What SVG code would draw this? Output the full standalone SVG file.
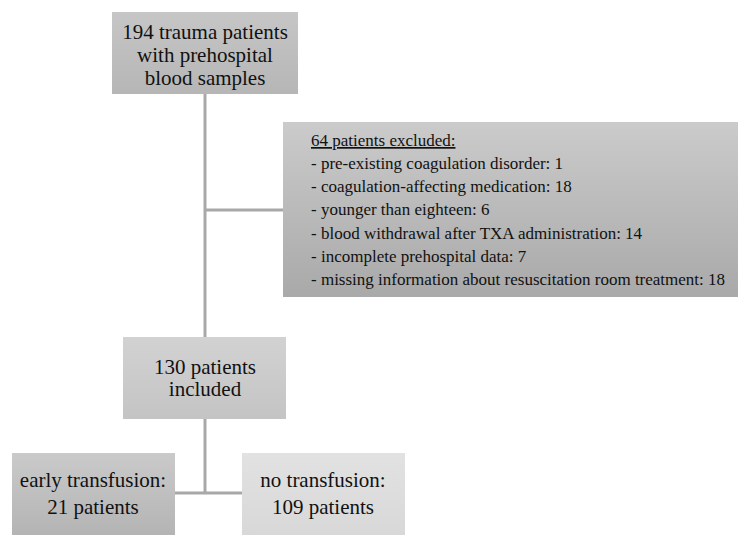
<svg xmlns="http://www.w3.org/2000/svg" width="751" height="541" viewBox="0 0 751 541">
<defs>
<linearGradient id="g1" x1="0" y1="0" x2="0" y2="1"><stop offset="0" stop-color="#c6c6c6"/><stop offset="1" stop-color="#b6b6b6"/></linearGradient>
<linearGradient id="g2" x1="0" y1="0" x2="0" y2="1"><stop offset="0" stop-color="#cbcbcb"/><stop offset="1" stop-color="#a9a9a9"/></linearGradient>
<linearGradient id="g3" x1="0" y1="0" x2="0" y2="1"><stop offset="0" stop-color="#d2d2d2"/><stop offset="1" stop-color="#c4c4c4"/></linearGradient>
<linearGradient id="g4" x1="0" y1="0" x2="0" y2="1"><stop offset="0" stop-color="#cacaca"/><stop offset="1" stop-color="#b4b4b4"/></linearGradient>
<linearGradient id="g5" x1="0" y1="0" x2="0" y2="1"><stop offset="0" stop-color="#e2e2e2"/><stop offset="1" stop-color="#d8d8d8"/></linearGradient>
</defs>
<style>
text{font-family:"Liberation Serif","Times New Roman",serif;fill:#111}
.c{text-anchor:middle;font-size:21px}
.l{font-size:17px}
.ln{stroke:#a8a8a8;stroke-width:3;fill:none}
</style>
<g id="connectors">
<line class="ln" x1="205" y1="94" x2="205" y2="337"/>
<line class="ln" x1="205" y1="210" x2="283" y2="210"/>
<line class="ln" x1="205" y1="419" x2="205" y2="493"/>
<line class="ln" x1="175" y1="493" x2="242" y2="493"/>
</g>
<g id="n1">
<rect x="112" y="12" width="186" height="82" fill="url(#g1)"/>
<text class="c" x="205" y="39">194 trauma patients</text>
<text class="c" x="205" y="62">with prehospital</text>
<text class="c" x="205" y="85">blood samples</text>
</g>
<g id="n2">
<rect x="283" y="122" width="455" height="175" fill="url(#g2)"/>
<text class="l" x="311" y="146" text-decoration="underline">64 patients excluded:</text>
<text class="l" x="311" y="169">- pre-existing coagulation disorder: 1</text>
<text class="l" x="311" y="192">- coagulation-affecting medication: 18</text>
<text class="l" x="311" y="215">- younger than eighteen: 6</text>
<text class="l" x="311" y="239">- blood withdrawal after TXA administration: 14</text>
<text class="l" x="311" y="262">- incomplete prehospital data: 7</text>
<text class="l" x="311" y="285">- missing information about resuscitation room treatment: 18</text>
</g>
<g id="n3">
<rect x="123" y="337" width="163" height="82" fill="url(#g3)"/>
<text class="c" x="205" y="374">130 patients</text>
<text class="c" x="205" y="396">included</text>
</g>
<g id="n4">
<rect x="12" y="453" width="163" height="82" fill="url(#g4)"/>
<text class="c" x="93" y="487">early transfusion:</text>
<text class="c" x="93" y="514">21 patients</text>
</g>
<g id="n5">
<rect x="242" y="453" width="163" height="82" fill="url(#g5)"/>
<text class="c" x="323" y="487">no transfusion:</text>
<text class="c" x="323" y="514">109 patients</text>
</g>
</svg>
